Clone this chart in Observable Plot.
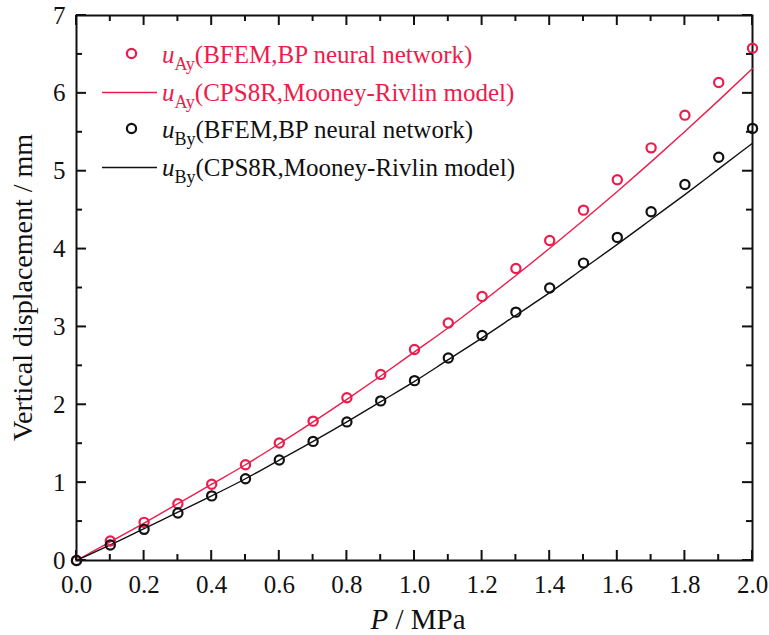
<!DOCTYPE html>
<html>
<head>
<meta charset="utf-8">
<script src="https://cdn.jsdelivr.net/npm/d3@7"></script>
<script src="https://cdn.jsdelivr.net/npm/@observablehq/plot@0.6"></script>
<style>
  html, body { margin: 0; padding: 0; background: #fff; }
</style>
</head>
<body>
<div id="chart"></div>
<script>
// Applied pressure P (MPa)
const pressure = [0, 0.1, 0.2, 0.3, 0.4, 0.5, 0.6, 0.7, 0.8, 0.9, 1.0,
                  1.1, 1.2, 1.3, 1.4, 1.5, 1.6, 1.7, 1.8, 1.9, 2.0];

// Vertical displacement of point A (mm)
const uAyBFEM  = [0, 0.25, 0.49, 0.73, 0.98, 1.23, 1.51, 1.79, 2.09, 2.39, 2.71,
                  3.05, 3.39, 3.75, 4.11, 4.50, 4.89, 5.30, 5.72, 6.14, 6.58];
const uAyCPS8R = [0, 0.24, 0.48, 0.73, 0.98, 1.23, 1.50, 1.78, 2.07, 2.37, 2.68,
                  2.99, 3.32, 3.66, 4.01, 4.37, 4.74, 5.12, 5.51, 5.91, 6.32];

// Vertical displacement of point B (mm)
const uByBFEM  = [0, 0.20, 0.40, 0.61, 0.83, 1.05, 1.29, 1.53, 1.78, 2.05, 2.31,
                  2.60, 2.89, 3.19, 3.50, 3.82, 4.15, 4.48, 4.83, 5.18, 5.55];
const uByCPS8R = [0, 0.20, 0.41, 0.62, 0.83, 1.05, 1.29, 1.53, 1.78, 2.04, 2.30,
                  2.58, 2.86, 3.15, 3.44, 3.75, 4.06, 4.38, 4.70, 5.03, 5.36];

// Tick positions
const xMajor = [0, 0.2, 0.4, 0.6, 0.8, 1.0, 1.2, 1.4, 1.6, 1.8, 2.0];
const xMinor = [0.1, 0.3, 0.5, 0.7, 0.9, 1.1, 1.3, 1.5, 1.7, 1.9];
const yMajor = [0, 1, 2, 3, 4, 5, 6, 7];
const yMinor = [0.5, 1.5, 2.5, 3.5, 4.5, 5.5, 6.5];

// Legend entries
const legendSub = ["Ay", "Ay", "By", "By"];
const legendText = ["(BFEM,BP neural network)", "(CPS8R,Mooney-Rivlin model)",
                    "(BFEM,BP neural network)", "(CPS8R,Mooney-Rivlin model)"];

const RED = "#ee1b4c";
const INK = "#111111";
const FONT = "'Liberation Serif', 'Times New Roman', 'DejaVu Serif', serif";

const rows = pressure.map((p, i) => ({
  p, aB: uAyBFEM[i], aC: uAyCPS8R[i], bB: uByBFEM[i], bC: uByCPS8R[i]
}));

const W = 769, H = 635;
const M = {top: 15, right: 17, bottom: 75, left: 76};
const plotW = W - M.left - M.right;
const plotH = H - M.top - M.bottom;
const majorLen = 10, minorLen = 6;

const chart = Plot.plot({
  width: W, height: H,
  marginTop: M.top, marginRight: M.right, marginBottom: M.bottom, marginLeft: M.left,
  style: {fontFamily: FONT, fontSize: "25px"},
  x: {domain: [0, 2], label: null},
  y: {domain: [0, 7], label: null},
  marks: [
    Plot.axisX({ticks: xMajor, tickSize: 0, tickPadding: 15, tickFormat: d3.format(".1f"), label: null, fill: INK}),
    Plot.axisY({ticks: yMajor, tickSize: 0, tickPadding: 11, tickFormat: d3.format("d"), label: null, fill: INK}),
    Plot.frame({stroke: INK, strokeWidth: 2}),
    // model curves
    Plot.line(rows, {x: "p", y: "aC", stroke: RED, strokeWidth: 1.4, curve: "monotone-x"}),
    Plot.line(rows, {x: "p", y: "bC", stroke: INK, strokeWidth: 1.4, curve: "monotone-x"}),
    // BFEM points
    Plot.dot(rows, {x: "p", y: "aB", r: 4.6, stroke: RED, strokeWidth: 2.2, fill: "none"}),
    Plot.dot(rows, {x: "p", y: "bB", r: 4.6, stroke: INK, strokeWidth: 2.2, fill: "none"})
  ]
});

document.getElementById("chart").appendChild(chart);
const svg = d3.select(chart);
const sx = chart.scale("x"), sy = chart.scale("y");
const edgeL = M.left, edgeR = W - M.right, edgeT = M.top, edgeB = H - M.bottom;

// inward tick marks on all four sides, positioned with the plot's scales
const tickLayer = svg.append("g");
function tick(x1, y1, x2, y2) {
  tickLayer.append("line")
    .attr("x1", x1).attr("y1", y1).attr("x2", x2).attr("y2", y2)
    .attr("stroke", INK).attr("stroke-width", 2);
}
xMajor.forEach(v => { const p = sx.apply(v); tick(p, edgeB, p, edgeB - majorLen); tick(p, edgeT, p, edgeT + majorLen); });
xMinor.forEach(v => { const p = sx.apply(v); tick(p, edgeB, p, edgeB - minorLen); tick(p, edgeT, p, edgeT + minorLen); });
yMajor.forEach(v => { const p = sy.apply(v); tick(edgeL, p, edgeL + majorLen, p); tick(edgeR, p, edgeR - majorLen, p); });
yMinor.forEach(v => { const p = sy.apply(v); tick(edgeL, p, edgeL + minorLen, p); tick(edgeR, p, edgeR - minorLen, p); });

// axis titles
svg.append("text")
  .attr("transform", `translate(32,${M.top + plotH / 2}) rotate(-90)`)
  .attr("text-anchor", "middle")
  .attr("font-family", FONT).attr("font-size", 28).attr("fill", INK)
  .text("Vertical displacement / mm");

const xTitle = svg.append("text")
  .attr("x", M.left + plotW / 2 + 4).attr("y", 629)
  .attr("text-anchor", "middle")
  .attr("font-family", FONT).attr("font-size", 29).attr("fill", INK);
xTitle.append("tspan").attr("font-style", "italic").text("P");
xTitle.append("tspan").text(" / MPa");

// legend
const legend = svg.append("g").attr("font-family", FONT).attr("font-size", 25)
  .attr("text-anchor", "start");
legendText.forEach((t, i) => {
  const base = 63 + i * 37.5;
  const color = i < 2 ? RED : INK;
  const isDot = i % 2 === 0;
  if (isDot) {
    legend.append("circle").attr("cx", 131.5).attr("cy", base - 9.5).attr("r", 4.6)
      .attr("fill", "none").attr("stroke", color).attr("stroke-width", 2.2);
  } else {
    legend.append("line").attr("x1", 102).attr("x2", 157).attr("y1", base - 8).attr("y2", base - 8)
      .attr("stroke", color).attr("stroke-width", 1.4);
  }
  const txt = legend.append("text").attr("x", 162).attr("y", base).attr("fill", color)
    .attr("text-anchor", "start");
  txt.append("tspan").attr("font-style", "italic").text("u");
  txt.append("tspan").attr("font-size", 18).attr("dy", 7).text(legendSub[i]);
  txt.append("tspan").attr("dy", -7).text(t);
});
</script>
</body>
</html>
